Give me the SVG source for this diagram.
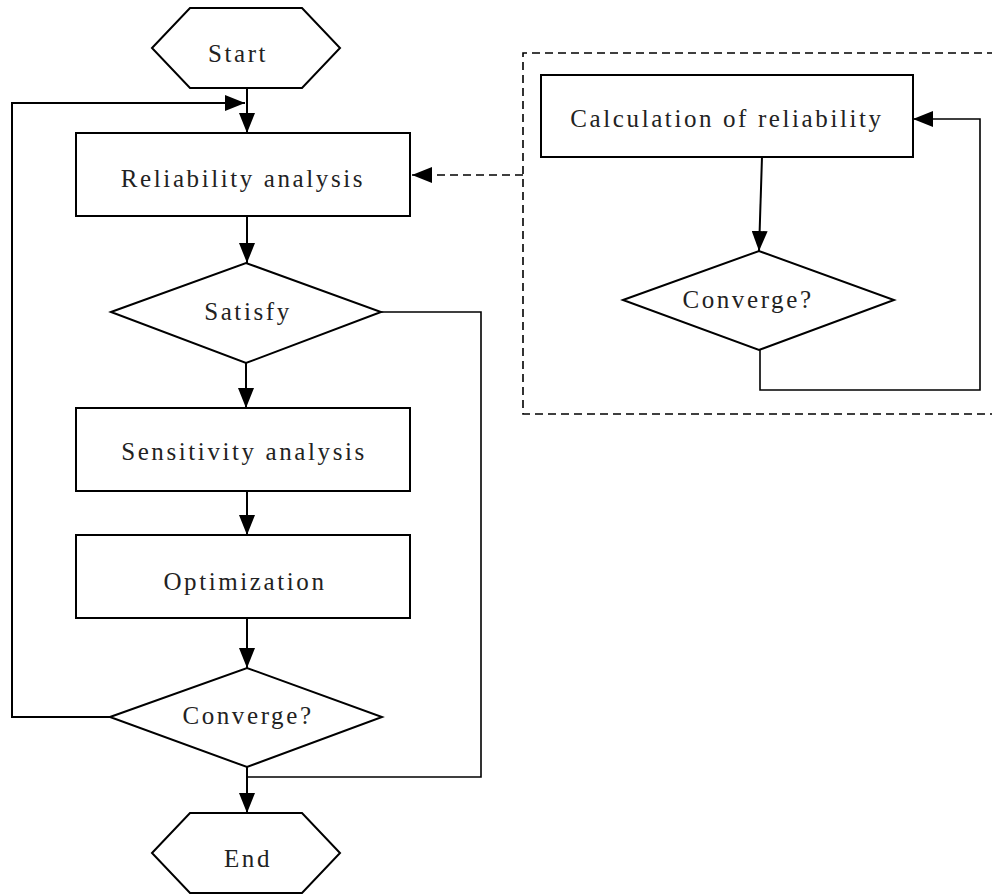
<svg xmlns="http://www.w3.org/2000/svg" width="992" height="895" viewBox="0 0 992 895">
<defs>
<style>
.shape{fill:#fff;stroke:#000;stroke-width:2}
.lbl{font-family:"Liberation Serif","Times New Roman",serif;font-size:25px;letter-spacing:2.6px;text-anchor:middle;fill:#222}
.ln{fill:none;stroke:#000;stroke-width:2}
.thin{fill:none;stroke:#000;stroke-width:1.6}
.dash{fill:none;stroke:#000;stroke-width:1.6;stroke-dasharray:8 5}
</style>
<marker id="ah" markerUnits="userSpaceOnUse" markerWidth="22" markerHeight="16" refX="20" refY="8" orient="auto">
<path d="M0,0 L20,8 L0,16 Z" fill="#000"/>
</marker>
</defs>
<rect width="992" height="895" fill="#fff"/>
<g id="connectors">
<line class="ln" x1="247" y1="88" x2="247" y2="133" marker-end="url(#ah)"/>
<polyline class="ln" points="110,717 12,717 12,103 245,103" marker-end="url(#ah)"/>
<line class="ln" x1="247" y1="216" x2="247" y2="263" marker-end="url(#ah)"/>
<line class="ln" x1="246" y1="363" x2="246" y2="408" marker-end="url(#ah)"/>
<line class="ln" x1="247" y1="491" x2="247" y2="535" marker-end="url(#ah)"/>
<line class="ln" x1="247" y1="618" x2="247" y2="668" marker-end="url(#ah)"/>
<line class="ln" x1="247" y1="767" x2="247" y2="813" marker-end="url(#ah)"/>
<polyline class="thin" points="381,312 481,312 481,777 247,777"/>
<line class="dash" x1="523" y1="175" x2="412" y2="175" marker-end="url(#ah)"/>
<line class="ln" x1="762" y1="157" x2="759" y2="251" marker-end="url(#ah)"/>
<polyline class="thin" points="760,350 760,390 980,390 980,119 913,119" marker-end="url(#ah)"/>
</g>
<g id="group-box"><polyline class="dash" points="995,53 523,53 523,414 995,414"/></g>
<g id="start"><polygon class="shape" points="152,48 190,8 302,8 340,48 302,88 190,88"/><text class="lbl" x="238" y="62">Start</text></g>
<g id="reliability"><rect class="shape" x="76" y="133" width="334" height="83"/><text class="lbl" x="243" y="187">Reliability analysis</text></g>
<g id="satisfy"><polygon class="shape" points="111,312 246,263 381,312 246,363"/><text class="lbl" x="248" y="320">Satisfy</text></g>
<g id="sensitivity"><rect class="shape" x="76" y="408" width="334" height="83"/><text class="lbl" x="244" y="460">Sensitivity analysis</text></g>
<g id="optimization"><rect class="shape" x="76" y="535" width="334" height="83"/><text class="lbl" x="245" y="590">Optimization</text></g>
<g id="converge"><polygon class="shape" points="110,717 247,668 382,717 247,767"/><text class="lbl" x="248" y="724">Converge?</text></g>
<g id="end"><polygon class="shape" points="152,853 190,813 302,813 340,853 302,893 190,893"/><text class="lbl" x="248" y="867">End</text></g>
<g id="calc"><rect class="shape" x="541" y="75" width="372" height="82"/><text class="lbl" x="727" y="127">Calculation of reliability</text></g>
<g id="converge2"><polygon class="shape" points="623,300 759,251 894,300 759,350"/><text class="lbl" x="748" y="308">Converge?</text></g>
</svg>
